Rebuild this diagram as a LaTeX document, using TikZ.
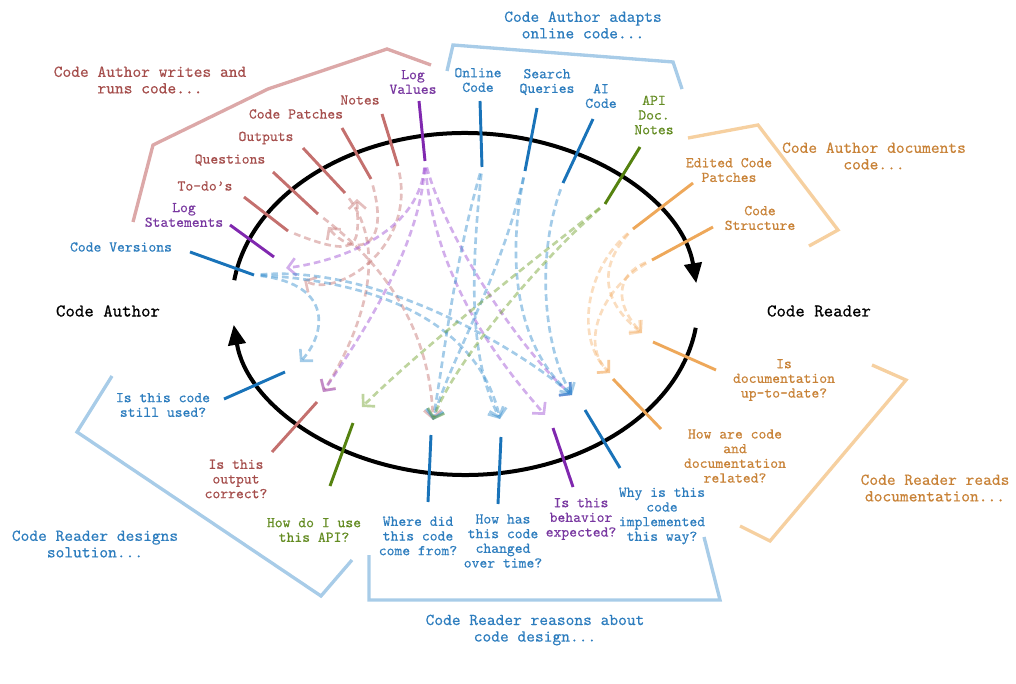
\documentclass[tikz,border=0pt]{standalone}
\usepackage{fontspec}
\newfontfamily\typew{lmmono10-regular.otf}[FakeBold=0.4]
\usetikzlibrary{arrows.meta}

\definecolor{redtick}{RGB}{196,112,110}
\definecolor{purptick}{RGB}{128,40,175}
\definecolor{bluetick}{RGB}{25,115,185}
\definecolor{greentick}{RGB}{85,130,15}
\definecolor{orgtick}{RGB}{238,168,90}
\definecolor{redtxt}{RGB}{165,78,76}
\definecolor{purptxt}{RGB}{120,55,160}
\definecolor{bluetxt}{RGB}{45,125,190}
\definecolor{greentxt}{RGB}{100,140,35}
\definecolor{orgtxt}{RGB}{200,130,55}
\definecolor{redbr}{RGB}{220,168,168}
\definecolor{bluebr}{RGB}{168,204,232}
\definecolor{orgbr}{RGB}{246,208,160}
\definecolor{purpflow}{RGB}{155,75,210}
\definecolor{blueflow}{RGB}{50,140,205}
\definecolor{greenflow}{RGB}{110,160,40}
\definecolor{orgflow}{RGB}{242,170,95}

\tikzset{
  lbl/.style={font=\typew\fontsize{11.2}{11}\selectfont, align=center, inner sep=0pt},
  grouplbl/.style={font=\typew\fontsize{12.5}{12.4}\selectfont, align=center, inner sep=0pt},
  rolelbl/.style={font=\typew\fontsize{13.5}{14}\selectfont, inner sep=0pt},
  tick/.style={line width=2.2pt},
  bracket/.style={line width=2.5pt, line join=miter},
  loopline/.style={line width=3pt, -{Triangle[length=15pt,width=13pt]}},
  flow/.style={line width=2pt, dash pattern=on 5pt off 3pt, opacity=0.45,
    -{Straight Barb[length=6pt,width=13pt]}, shorten <=5pt},
}

\begin{document}
\begin{tikzpicture}[x=0.75pt, y=-0.75pt]
  \useasboundingbox (0,0) rectangle (1016,684);

  % Author -> Reader loop
  \draw[loopline] (465,304) ++(188:233 and 171)
    arc[start angle=188, end angle=353, x radius=233, y radius=171];
  \draw[loopline] (465,304) ++(8:233 and 171)
    arc[start angle=8, end angle=173, x radius=233, y radius=171];
  \node[rolelbl] (author) at (108,311) {Code Author};
  \node[rolelbl] (reader) at (819,311) {Code Reader};

  % Tick ends (outer, inner)
  \coordinate (versions-out) at (190,252);  \coordinate (versions-in) at (254,275);
  \coordinate (logstmt-out) at (230,225);   \coordinate (logstmt-in) at (274,257);
  \coordinate (todo-out) at (244,197);      \coordinate (todo-in) at (288,231);
  \coordinate (questions-out) at (273,172); \coordinate (questions-in) at (318,214);
  \coordinate (outputs-out) at (303,148);   \coordinate (outputs-in) at (345,193);
  \coordinate (patches-out) at (342,128);   \coordinate (patches-in) at (371,179);
  \coordinate (notes-out) at (382,114);     \coordinate (notes-in) at (398,166);
  \coordinate (logvals-out) at (419,101);   \coordinate (logvals-in) at (425,161);
  \coordinate (online-out) at (480,101);    \coordinate (online-in) at (482,167);
  \coordinate (search-out) at (537,108);    \coordinate (search-in) at (525,171);
  \coordinate (ai-out) at (593,119);        \coordinate (ai-in) at (563,183);
  \coordinate (api-out) at (640,147);       \coordinate (api-in) at (605,204);
  \coordinate (edited-out) at (693,183);    \coordinate (edited-in) at (633,229);
  \coordinate (structure-out) at (713,227); \coordinate (structure-in) at (652,260);
  \coordinate (uptodate-out) at (716,370);  \coordinate (uptodate-in) at (653,342);
  \coordinate (related-out) at (661,429);   \coordinate (related-in) at (613,379);
  \coordinate (why-out) at (620,468);       \coordinate (why-in) at (585,410);
  \coordinate (behavior-out) at (573,487);  \coordinate (behavior-in) at (553,428);
  \coordinate (changed-out) at (498,504);   \coordinate (changed-in) at (501,437);
  \coordinate (where-out) at (428,502);     \coordinate (where-in) at (431,435);
  \coordinate (howuse-out) at (330,486);    \coordinate (howuse-in) at (353,423);
  \coordinate (correct-out) at (272,452);   \coordinate (correct-in) at (317,402);
  \coordinate (stillused-out) at (224,399); \coordinate (stillused-in) at (285,372);

  % Arrow tips of the flows
  \coordinate (outputs-tip) at (357,199);
  \coordinate (questions-tip) at (328,227);
  \coordinate (versions-tip) at (304,280);
  \coordinate (logstmt-tip) at (286,268);
  \coordinate (stillused-tip) at (300,362);
  \coordinate (correct-tip) at (323,392);
  \coordinate (howuse-tip) at (362,407);
  \coordinate (where-tip) at (433,420);
  \coordinate (changed-tip) at (500,419);
  \coordinate (behavior-tip) at (545,415);
  \coordinate (why-tip) at (572,395);
  \coordinate (uptodate-tip) at (642,333);
  \coordinate (related-tip) at (610,373);

  % Flows: red
  \draw[flow, redtick] (todo-in) .. controls (365,262) and (358,240) .. (outputs-tip);
  \draw[flow, redtick] (patches-in) .. controls (392,255) and (350,255) .. (questions-tip);
  \draw[flow, redtick] (notes-in) .. controls (415,250) and (335,298) .. (versions-tip);
  \draw[flow, redtick] (questions-in) .. controls (385,265) and (430,330) .. (where-tip);
  \draw[flow, redtick] (outputs-in) .. controls (395,260) and (350,350) .. (correct-tip);
  % Flows: purple
  \draw[flow, purpflow] (logvals-in) .. controls (418,235) and (335,262) .. (logstmt-tip);
  \draw[flow, purpflow] (logvals-in) .. controls (420,250) and (355,345) .. (correct-tip);
  \draw[flow, purpflow] (logvals-in) .. controls (435,290) and (515,380) .. (behavior-tip);
  \draw[flow, purpflow] (logvals-in) .. controls (450,250) and (530,360) .. (why-tip);
  % Flows: blue
  \draw[flow, blueflow] (versions-in) .. controls (335,285) and (325,335) .. (stillused-tip);
  \draw[flow, blueflow] (versions-in) .. controls (390,282) and (480,330) .. (changed-tip);
  \draw[flow, blueflow] (versions-in) .. controls (380,265) and (520,350) .. (why-tip);
  \draw[flow, blueflow] (online-in) .. controls (455,260) and (445,350) .. (where-tip);
  \draw[flow, blueflow] (online-in) .. controls (470,280) and (470,360) .. (changed-tip);
  \draw[flow, blueflow] (search-in) .. controls (505,270) and (520,350) .. (why-tip);
  \draw[flow, blueflow] (search-in) .. controls (500,280) and (450,360) .. (where-tip);
  \draw[flow, blueflow] (ai-in) .. controls (535,260) and (545,350) .. (why-tip);
  % Flows: green
  \draw[flow, greenflow] (api-in) .. controls (520,270) and (420,350) .. (howuse-tip);
  \draw[flow, greenflow] (api-in) .. controls (530,270) and (450,370) .. (where-tip);
  % Flows: orange
  \draw[flow, orgflow, opacity=0.4] (edited-in) .. controls (600,265) and (600,300) .. (uptodate-tip);
  \draw[flow, orgflow, opacity=0.4] (edited-in) .. controls (585,270) and (575,340) .. (related-tip);
  \draw[flow, orgflow, opacity=0.4] (structure-in) .. controls (615,275) and (615,305) .. (uptodate-tip);
  \draw[flow, orgflow, opacity=0.4] (structure-in) .. controls (600,290) and (580,345) .. (related-tip);

  % Ticks
  \draw[tick, bluetick] (versions-out) -- (versions-in);
  \draw[tick, purptick] (logstmt-out) -- (logstmt-in);
  \draw[tick, redtick] (todo-out) -- (todo-in);
  \draw[tick, redtick] (questions-out) -- (questions-in);
  \draw[tick, redtick] (outputs-out) -- (outputs-in);
  \draw[tick, redtick] (patches-out) -- (patches-in);
  \draw[tick, redtick] (notes-out) -- (notes-in);
  \draw[tick, purptick] (logvals-out) -- (logvals-in);
  \draw[tick, bluetick] (online-out) -- (online-in);
  \draw[tick, bluetick] (search-out) -- (search-in);
  \draw[tick, bluetick] (ai-out) -- (ai-in);
  \draw[tick, greentick] (api-out) -- (api-in);
  \draw[tick, orgtick] (edited-out) -- (edited-in);
  \draw[tick, orgtick] (structure-out) -- (structure-in);
  \draw[tick, orgtick] (uptodate-out) -- (uptodate-in);
  \draw[tick, orgtick] (related-out) -- (related-in);
  \draw[tick, bluetick] (why-out) -- (why-in);
  \draw[tick, purptick] (behavior-out) -- (behavior-in);
  \draw[tick, bluetick] (changed-out) -- (changed-in);
  \draw[tick, bluetick] (where-out) -- (where-in);
  \draw[tick, greentick] (howuse-out) -- (howuse-in);
  \draw[tick, redtick] (correct-out) -- (correct-in);
  \draw[tick, bluetick] (stillused-out) -- (stillused-in);

  % Tick labels
  \node[lbl, bluetxt] (versions) at (121,247) {Code Versions};
  \node[lbl, purptxt] (logstmt) at (184,215) {Log\\Statements};
  \node[lbl, redtxt] (todo) at (205,186) {To-do’s};
  \node[lbl, redtxt] (questions) at (230,160) {Questions};
  \node[lbl, redtxt] (outputs) at (266,138) {Outputs};
  \node[lbl, redtxt] (patches) at (296,114) {Code Patches};
  \node[lbl, redtxt] (notes) at (360,100) {Notes};
  \node[lbl, purptxt] (logvals) at (413,82) {Log\\Values};
  \node[lbl, bluetxt] (online) at (478,80) {Online\\Code};
  \node[lbl, bluetxt] (search) at (547,82) {Search\\Queries};
  \node[lbl, bluetxt] (ai) at (601,96) {AI\\Code};
  \node[lbl, greentxt] (api) at (654,115) {API\\Doc.\\Notes};
  \node[lbl, orgtxt] (edited) at (729,170) {Edited Code\\Patches};
  \node[lbl, orgtxt] (structure) at (760,218) {Code\\Structure};
  \node[lbl, orgtxt] (uptodate) at (784,380) {Is\\documentation\\up-to-date?};
  \node[lbl, orgtxt] (related) at (735,456) {How are code\\and\\documentation\\related?};
  \node[lbl, bluetxt] (why) at (662,516) {Why is this\\code\\implemented\\this way?};
  \node[lbl, purptxt] (behavior) at (581,519) {Is this\\behavior\\expected?};
  \node[lbl, bluetxt] (changed) at (503,541) {How has\\this code\\changed\\over time?};
  \node[lbl, bluetxt] (where) at (418,536) {Where did\\this code\\come from?};
  \node[lbl, greentxt] (howuse) at (314,530) {How do I use\\this API?};
  \node[lbl, redtxt] (correct) at (236,479) {Is this\\output\\correct?};
  \node[lbl, bluetxt] (stillused) at (163,405) {Is this code\\still used?};

  % Group brackets
  \draw[bracket, redbr] (133,222) -- (153,145) -- (268,89) -- (387,49) -- (431,65);
  \draw[bracket, bluebr] (447,71) -- (453,45) -- (673,62) -- (682,89);
  \draw[bracket, orgbr] (688,138) -- (758,125) -- (838,230) -- (809,246);
  \draw[bracket, orgbr] (872,365) -- (906,380) -- (770,541) -- (740,526);
  \draw[bracket, bluebr] (704,537) -- (720,600) -- (369,600) -- (369,555);
  \draw[bracket, bluebr] (112,376) -- (77,432) -- (321,596) -- (352,560);

  % Group labels
  \node[grouplbl, redtxt] (writes) at (150,80) {Code Author writes and\\runs code...};
  \node[grouplbl, bluetxt] (adapts) at (583,25) {Code Author adapts\\online code...};
  \node[grouplbl, orgtxt] (documents) at (874,156) {Code Author documents\\code...};
  \node[grouplbl, orgtxt] (reads) at (935,488) {Code Reader reads\\documentation...};
  \node[grouplbl, bluetxt] (reasons) at (535,630) {Code Reader reasons about\\code design...};
  \node[grouplbl, bluetxt] (designs) at (95,544) {Code Reader designs\\solution...};
\end{tikzpicture}
\end{document}
